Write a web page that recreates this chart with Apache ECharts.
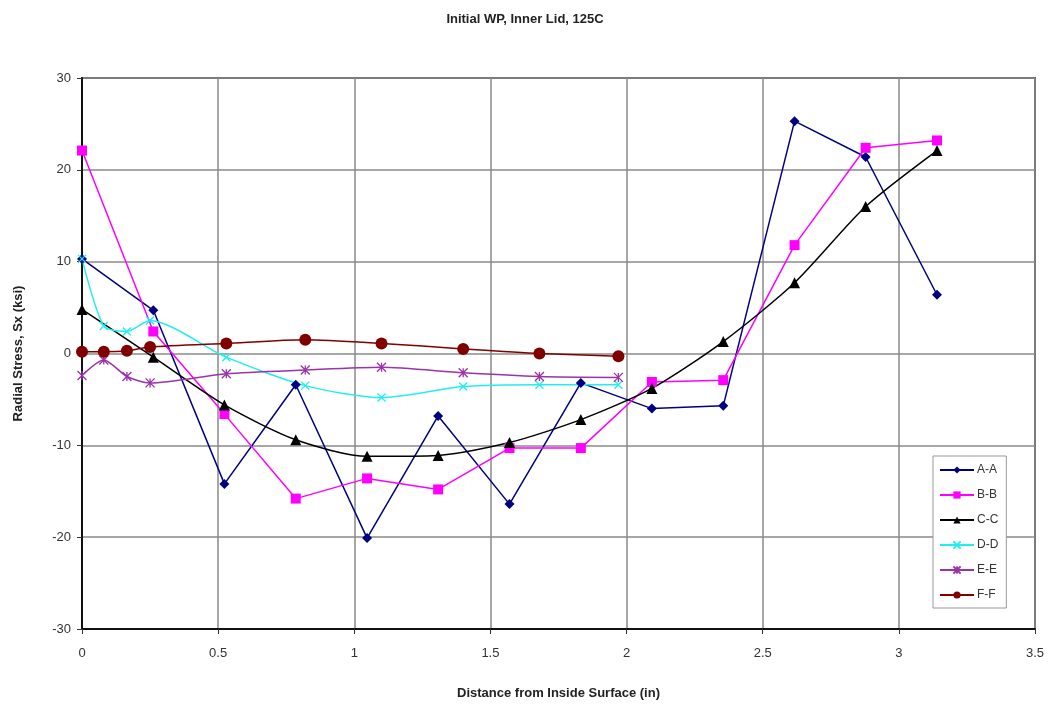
<!DOCTYPE html>
<html>
<head>
<meta charset="utf-8">
<script src="https://cdn.jsdelivr.net/npm/echarts@6/dist/echarts.min.js"></script>
<style>html,body{margin:0;padding:0;background:#fff;}#c{width:1050px;height:705px;}</style>
</head>
<body>
<div id="c"></div>
<script>
// x positions (in)
const xMain = [0, 0.262, 0.523, 0.785, 1.047, 1.308, 1.57, 1.832, 2.093, 2.355, 2.617, 2.878, 3.14];
const xShort = [0, 0.08, 0.165, 0.25, 0.53, 0.82, 1.1, 1.4, 1.68, 1.97];
// series values (ksi)
const aa = [10.3, 4.7, -14.2, -3.4, -20.1, -6.8, -16.4, -3.2, -6.0, -5.7, 25.3, 21.4, 6.4];
const bb = [22.1, 2.4, -6.6, -15.8, -13.6, -14.8, -10.3, -10.3, -3.1, -2.9, 11.8, 22.4, 23.2];
const cc = [4.8, -0.4, -5.6, -9.4, -11.2, -11.1, -9.7, -7.2, -3.8, 1.3, 7.7, 16.0, 22.1];
const dd = [10.3, 3.0, 2.4, 3.6, -0.4, -3.5, -4.8, -3.6, -3.4, -3.4];
const ee = [-2.4, -0.7, -2.5, -3.2, -2.2, -1.8, -1.5, -2.1, -2.5, -2.6];
const ff = [0.2, 0.2, 0.3, 0.7, 1.1, 1.5, 1.1, 0.5, 0.0, -0.3];
const names = ['A-A', 'B-B', 'C-C', 'D-D', 'E-E', 'F-F'];
const xTicks = ['0', '0.5', '1', '1.5', '2', '2.5', '3', '3.5'];

function pairs(xs, ys) { return ys.map((v, i) => [xs[i], v]); }

const xSym = 'path://M0,0L10,10M10,0L0,10';
const starSym = 'path://M5,0L5,10M0,0L10,10M10,0L0,10';

function mk(name, xs, ys, color, symbol, size, smooth, open) {
  return {
    name: name, type: 'line', data: pairs(xs, ys), smooth: smooth ? 0.25 : false,
    symbol: symbol, symbolSize: size, showSymbol: true,
    lineStyle: { color: color, width: 1.5 },
    itemStyle: open ? { color: 'rgba(0,0,0,0)', borderColor: color, borderWidth: 1.3 } : { color: color, borderColor: color, borderWidth: 0 },
    emphasis: { disabled: true }, animation: false, z: 3
  };
}

const chart = echarts.init(document.getElementById('c'), null, { renderer: 'canvas' });
chart.setOption({
  backgroundColor: '#fff',
  animation: false,
  title: {
    text: 'Initial WP, Inner Lid, 125C', left: 'center', top: 8,
    textStyle: { fontFamily: 'Liberation Sans, Arial', fontSize: 13, fontWeight: 'bold', color: '#222' }
  },
  grid: { left: 82, right: 15, top: 78, bottom: 75, show: true, borderColor: '#555', borderWidth: 2, backgroundColor: '#fff' },
  legend: {
    orient: 'vertical', left: 933, top: 456,
    data: names,
    itemWidth: 34, itemHeight: 9, itemGap: 13,
    padding: [8, 8, 7, 6],
    borderColor: '#999', borderWidth: 1, backgroundColor: '#fff',
    textStyle: { fontFamily: 'Liberation Sans, Arial', fontSize: 12, color: '#333', padding: [0, 0, 0, -2] }
  },
  xAxis: {
    type: 'value', min: 0, max: 3.5, interval: 0.5,
    name: 'Distance from Inside Surface (in)', nameLocation: 'middle', nameGap: 58,
    nameTextStyle: { fontFamily: 'Liberation Sans, Arial', fontSize: 13, fontWeight: 'bold', color: '#222' },
    axisLine: { show: true, onZero: false, lineStyle: { color: '#111', width: 2 } },
    axisTick: { show: true, length: 5, inside: false, lineStyle: { color: '#333' } },
    axisLabel: { margin: 18, fontFamily: 'Liberation Sans, Arial', fontSize: 13, color: '#333',
      formatter: function (v) { const i = Math.round(v / 0.5); return xTicks[i] !== undefined ? xTicks[i] : ''; } },
    splitLine: { show: true, lineStyle: { color: '#8a8a8a', width: 1.5 } }
  },
  yAxis: {
    type: 'value', min: -30, max: 30, interval: 10,
    name: 'Radial Stress, Sx (ksi)', nameLocation: 'middle', nameGap: 57,
    nameTextStyle: { fontFamily: 'Liberation Sans, Arial', fontSize: 13, fontWeight: 'bold', color: '#222' },
    axisLine: { show: true, onZero: false, lineStyle: { color: '#111', width: 2 } },
    axisTick: { show: true, length: 5, lineStyle: { color: '#333' } },
    axisLabel: { margin: 11, fontFamily: 'Liberation Sans, Arial', fontSize: 13, color: '#333' },
    splitLine: { show: true, lineStyle: { color: '#8a8a8a', width: 1.5 } }
  },
  series: [
    mk('A-A', xMain, aa, '#000080', 'diamond', 10, false, false),
    mk('B-B', xMain, bb, '#ff00ff', 'rect', 10, false, false),
    mk('C-C', xMain, cc, '#000000', 'triangle', 11, true, false),
    mk('D-D', xShort, dd, '#22eeee', xSym, 8, true, true),
    mk('E-E', xShort, ee, '#9933aa', starSym, 9, true, true),
    mk('F-F', xShort, ff, '#800000', 'circle', 12, true, false)
  ]
});
</script>
</body>
</html>
